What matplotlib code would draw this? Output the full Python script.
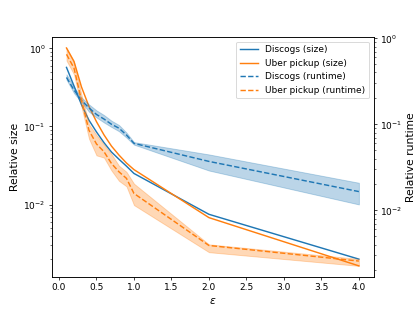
import matplotlib
matplotlib.use("Agg")
import matplotlib.pyplot as plt

eps = [0.1, 0.2, 0.3, 0.4, 0.5, 0.6, 0.7, 0.8, 0.9, 1.0, 2.0, 4.0]

# relative size (left axis)
discogs_size = [0.57, 0.33, 0.19, 0.12, 0.085, 0.062, 0.047, 0.038, 0.031, 0.025, 0.0075, 0.002]
uber_size = [1.01, 0.68, 0.32, 0.18, 0.115, 0.078, 0.056, 0.043, 0.034, 0.028, 0.0068, 0.00164]

# relative runtime (right axis) with min / max band
discogs_rt = [0.35, 0.25, 0.19, 0.155, 0.13, 0.115, 0.1, 0.09, 0.075, 0.06, 0.037, 0.0165]
discogs_rt_lo = [0.33, 0.23, 0.18, 0.14, 0.12, 0.105, 0.093, 0.083, 0.07, 0.058, 0.029, 0.0117]
discogs_rt_hi = [0.38, 0.27, 0.205, 0.17, 0.145, 0.128, 0.11, 0.098, 0.08, 0.062, 0.0446, 0.0209]

uber_rt = [0.65, 0.45, 0.19, 0.085, 0.059, 0.048, 0.035, 0.028, 0.0235, 0.0157, 0.0039, 0.00257]
uber_rt_lo = [0.55, 0.38, 0.16, 0.068, 0.0435, 0.041, 0.029, 0.022, 0.019, 0.0115, 0.00326, 0.00226]
uber_rt_hi = [0.77, 0.53, 0.22, 0.1, 0.075, 0.058, 0.045, 0.033, 0.028, 0.0204, 0.00402, 0.00272]

fig, ax = plt.subplots(figsize=(6.4, 4.8), dpi=415 / 6.4)
ax2 = ax.twinx()

l1, = ax.plot(eps, discogs_size, color="C0", lw=1.6, label="Discogs (size)")
l2, = ax.plot(eps, uber_size, color="C1", lw=1.6, label="Uber pickup (size)")
l3, = ax2.plot(eps, discogs_rt, color="C0", lw=1.6, ls="--", label="Discogs (runtime)")
ax2.fill_between(eps, discogs_rt_lo, discogs_rt_hi, color="C0", alpha=0.3)
l4, = ax2.plot(eps, uber_rt, color="C1", lw=1.6, ls="--", label="Uber pickup (runtime)")
ax2.fill_between(eps, uber_rt_lo, uber_rt_hi, color="C1", alpha=0.3)

ax.set_yscale("log")
ax2.set_yscale("log")
ax.set_xlabel(r"$\epsilon$", fontsize=12)
ax.set_ylabel("Relative size", fontsize=12)
ax2.set_ylabel("Relative runtime", fontsize=12)

ax2.legend(handles=[l1, l2, l3, l4], loc="upper right")

fig.savefig("out.png")
